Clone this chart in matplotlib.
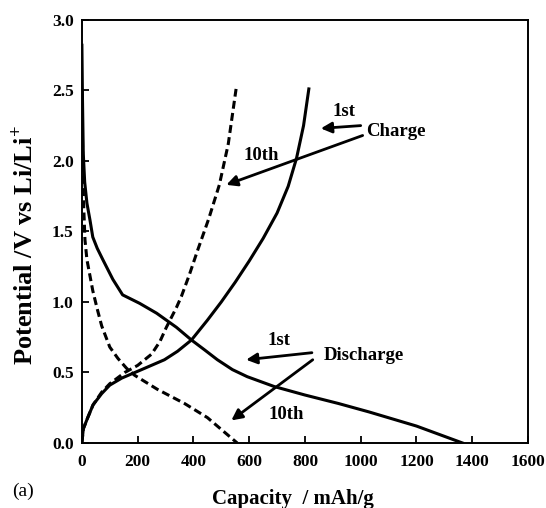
import matplotlib
matplotlib.use("Agg")
import matplotlib.pyplot as plt

# 1st cycle (solid)
dis1_x = [0, 2, 5, 10, 18, 29, 39, 55, 75, 111, 146, 207, 268, 339, 393, 440, 486, 540, 593, 690, 800, 920, 1030, 1200, 1365]
dis1_y = [2.82, 2.45, 2.05, 1.85, 1.70, 1.58, 1.46, 1.38, 1.30, 1.16, 1.05, 0.99, 0.92, 0.82, 0.73, 0.66, 0.59, 0.52, 0.47, 0.40, 0.34, 0.28, 0.22, 0.12, 0.0]
chg1_x = [0, 5, 21, 40, 71, 100, 143, 214, 296, 343, 393, 450, 500, 550, 600, 650, 700, 740, 770, 795, 814]
chg1_y = [0.0, 0.10, 0.18, 0.27, 0.35, 0.41, 0.46, 0.52, 0.59, 0.65, 0.73, 0.87, 1.00, 1.14, 1.29, 1.45, 1.63, 1.82, 2.02, 2.25, 2.51]

# 10th cycle (dashed)
dis10_x = [0, 3, 6, 11, 18, 39, 55, 71, 100, 129, 160, 189, 230, 271, 368, 450, 557]
dis10_y = [2.5, 2.0, 1.7, 1.44, 1.30, 1.08, 0.95, 0.83, 0.68, 0.60, 0.53, 0.48, 0.43, 0.38, 0.28, 0.18, 0.0]
chg10_x = [0, 5, 21, 40, 71, 100, 154, 200, 250, 280, 303, 339, 357, 385, 414, 455, 493, 525, 553]
chg10_y = [0.0, 0.10, 0.18, 0.27, 0.36, 0.42, 0.50, 0.55, 0.63, 0.72, 0.82, 0.96, 1.04, 1.19, 1.36, 1.59, 1.83, 2.12, 2.51]

x_ticks = [0, 200, 400, 600, 800, 1000, 1200, 1400, 1600]
y_ticks = [0.0, 0.5, 1.0, 1.5, 2.0, 2.5, 3.0]

plt.rcParams["font.family"] = ["Liberation Serif", "DejaVu Serif"]
plt.rcParams["mathtext.fontset"] = "custom"
plt.rcParams["mathtext.bf"] = "Liberation Serif:bold"
plt.rcParams["mathtext.rm"] = "Liberation Serif:bold"

fig = plt.figure(figsize=(5.46, 5.08), dpi=100)
ax = fig.add_axes([0.150, 0.128, 0.817, 0.833])

lw = 2.2
dash = (0, (2.6, 1.4))
ax.plot(dis1_x, dis1_y, color="black", lw=lw)
ax.plot(chg1_x, chg1_y, color="black", lw=lw)
ax.plot(dis10_x, dis10_y, color="black", lw=lw, linestyle=dash)
ax.plot(chg10_x, chg10_y, color="black", lw=lw, linestyle=dash)

ax.set_xlim(0, 1600)
ax.set_ylim(0, 3.0)
ax.set_xticks(x_ticks)
ax.set_yticks(y_ticks)
ax.set_yticklabels([f"{v:.1f}" for v in y_ticks])
ax.tick_params(direction="in", length=5, width=1.3, labelsize=12.5)
ax.tick_params(axis="x", pad=8)
ax.tick_params(axis="y", pad=6)
for lab in ax.get_xticklabels() + ax.get_yticklabels():
    lab.set_fontweight("bold")
for s in ax.spines.values():
    s.set_linewidth(1.4)

fig.text(0.537, 0.018, "Capacity  / mAh/g", fontsize=15, fontweight="bold",
         ha="center", va="center")
fig.text(0.044, 0.518, "Potential /V vs Li/Li$^{+}$", fontsize=19, fontweight="bold",
         rotation=90, ha="center", va="center")
fig.text(0.022, 0.032, "(a)", fontsize=14, va="center")

arrow = dict(arrowstyle="-|>", color="black", lw=2, mutation_scale=16, shrinkA=0, shrinkB=0)
txt = dict(fontsize=13.5, fontweight="bold", ha="center", va="center")

# charge annotations
ax.text(939, 2.35, "1st", **txt)
ax.text(1125, 2.21, "Charge", **txt)
ax.text(643, 2.04, "10th", **txt)
ax.annotate("", xy=(857, 2.23), xytext=(1000, 2.25), arrowprops=arrow)
ax.annotate("", xy=(518, 1.83), xytext=(1007, 2.18), arrowprops=arrow)

# discharge annotations
ax.text(707, 0.73, "1st", **txt)
ax.text(1011, 0.62, "Discharge", **txt)
ax.text(732, 0.20, "10th", **txt)
ax.annotate("", xy=(589, 0.59), xytext=(825, 0.64), arrowprops=arrow)
ax.annotate("", xy=(536, 0.16), xytext=(828, 0.59), arrowprops=arrow)

fig.savefig("out.png", dpi=100)
